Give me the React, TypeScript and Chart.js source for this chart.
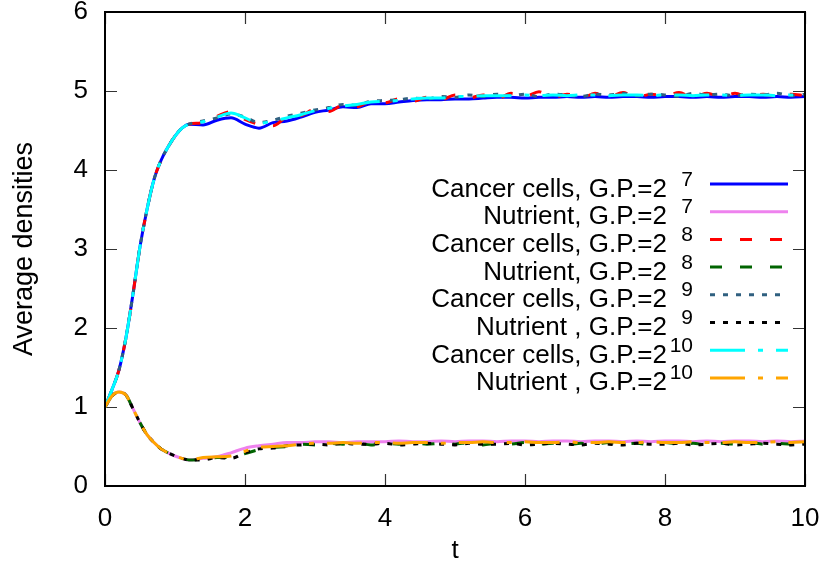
import { useEffect, useRef } from "react";
import { Chart, registerables } from "chart.js";

Chart.register(...registerables);

// time grid (finer during the initial transient)
const tValues = [
  0, 0.1, 0.2, 0.3, 0.4, 0.5, 0.6, 0.7, 0.8, 0.9, 1.0, 1.1, 1.2,
  1.4, 1.6, 1.8, 2.0, 2.2, 2.4, 2.6, 2.8, 3.0, 3.2,
  3.4, 3.6, 3.8, 4.0, 4.2, 4.4, 4.6, 4.8, 5.0, 5.2,
  5.4, 5.6, 5.8, 6.0, 6.2, 6.4, 6.6, 6.8, 7.0, 7.2,
  7.4, 7.6, 7.8, 8.0, 8.2, 8.4, 8.6, 8.8, 9.0, 9.2,
  9.4, 9.6, 9.8, 10.0,
];

const cancer7 = [
  1.00, 1.22, 1.47, 1.88, 2.43, 3.03, 3.50, 3.88, 4.12, 4.29, 4.43, 4.53, 4.58,
  4.57, 4.63, 4.66, 4.58, 4.53, 4.60, 4.62, 4.67, 4.73, 4.76,
  4.80, 4.79, 4.84, 4.84, 4.86, 4.88, 4.89, 4.89, 4.90, 4.90,
  4.91, 4.92, 4.92, 4.91, 4.92, 4.92, 4.93, 4.92, 4.93, 4.92,
  4.93, 4.93, 4.92, 4.93, 4.93, 4.92, 4.93, 4.92, 4.93, 4.93,
  4.92, 4.93, 4.92, 4.93,
];
const nutrient7 = [
  1.00, 1.14, 1.19, 1.15, 0.98, 0.80, 0.65, 0.55, 0.47, 0.42, 0.38, 0.35, 0.33,
  0.35, 0.37, 0.42, 0.48, 0.51, 0.53, 0.55, 0.55, 0.56, 0.56,
  0.55, 0.56, 0.56, 0.56, 0.57, 0.56, 0.56, 0.57, 0.56, 0.57,
  0.57, 0.56, 0.57, 0.57, 0.56, 0.57, 0.57, 0.56, 0.57, 0.57,
  0.56, 0.57, 0.56, 0.57, 0.57, 0.56, 0.57, 0.56, 0.57, 0.57,
  0.56, 0.57, 0.56, 0.57,
];
const cancer8 = [
  1.00, 1.22, 1.47, 1.88, 2.43, 3.03, 3.50, 3.88, 4.12, 4.29, 4.43, 4.53, 4.58,
  4.60, 4.68, 4.74, 4.64, 4.58, 4.56, 4.67, 4.69, 4.77, 4.74,
  4.82, 4.80, 4.87, 4.85, 4.90, 4.87, 4.92, 4.89, 4.95, 4.91,
  4.95, 4.90, 4.97, 4.93, 4.99, 4.92, 4.96, 4.91, 4.97, 4.93,
  4.98, 4.92, 4.96, 4.94, 4.98, 4.92, 4.97, 4.93, 4.97, 4.92,
  4.96, 4.93, 4.96, 4.94,
];
const nutrient8 = [
  1.00, 1.14, 1.19, 1.15, 0.98, 0.80, 0.65, 0.55, 0.47, 0.42, 0.38, 0.35, 0.33,
  0.34, 0.36, 0.36, 0.41, 0.46, 0.49, 0.50, 0.53, 0.52, 0.54,
  0.53, 0.54, 0.52, 0.54, 0.53, 0.55, 0.53, 0.54, 0.53, 0.55,
  0.52, 0.54, 0.53, 0.55, 0.53, 0.54, 0.52, 0.54, 0.53, 0.55,
  0.53, 0.54, 0.52, 0.55, 0.53, 0.54, 0.52, 0.54, 0.53, 0.55,
  0.53, 0.54, 0.53, 0.54,
];
const cancer9 = [
  1.00, 1.22, 1.47, 1.88, 2.43, 3.03, 3.50, 3.88, 4.12, 4.29, 4.43, 4.53, 4.58,
  4.62, 4.66, 4.71, 4.67, 4.60, 4.63, 4.68, 4.72, 4.76, 4.79,
  4.83, 4.82, 4.87, 4.88, 4.89, 4.91, 4.90, 4.93, 4.92, 4.95,
  4.93, 4.96, 4.94, 4.96, 4.93, 4.96, 4.95, 4.93, 4.96, 4.95,
  4.97, 4.94, 4.96, 4.95, 4.93, 4.97, 4.95, 4.96, 4.94, 4.96,
  4.95, 4.97, 4.94, 4.96,
];
const nutrient9 = [
  1.00, 1.14, 1.19, 1.15, 0.98, 0.80, 0.65, 0.55, 0.47, 0.42, 0.38, 0.35, 0.33,
  0.33, 0.36, 0.35, 0.42, 0.47, 0.48, 0.51, 0.52, 0.53, 0.52,
  0.54, 0.53, 0.53, 0.54, 0.52, 0.53, 0.54, 0.53, 0.52, 0.54,
  0.53, 0.53, 0.54, 0.52, 0.53, 0.54, 0.53, 0.52, 0.54, 0.53,
  0.52, 0.54, 0.53, 0.53, 0.54, 0.52, 0.53, 0.54, 0.52, 0.53,
  0.54, 0.53, 0.52, 0.53,
];
const cancer10 = [
  1.00, 1.22, 1.47, 1.88, 2.43, 3.03, 3.50, 3.88, 4.12, 4.29, 4.43, 4.53, 4.58,
  4.61, 4.67, 4.72, 4.66, 4.59, 4.62, 4.66, 4.70, 4.75, 4.78,
  4.81, 4.83, 4.86, 4.87, 4.88, 4.90, 4.91, 4.91, 4.93, 4.93,
  4.94, 4.94, 4.94, 4.95, 4.94, 4.95, 4.94, 4.95, 4.95, 4.94,
  4.95, 4.95, 4.94, 4.95, 4.95, 4.94, 4.95, 4.95, 4.94, 4.95,
  4.95, 4.94, 4.95, 4.95,
];
const nutrient10 = [
  1.00, 1.14, 1.19, 1.15, 0.98, 0.80, 0.65, 0.55, 0.47, 0.42, 0.38, 0.35, 0.33,
  0.36, 0.37, 0.38, 0.44, 0.49, 0.50, 0.51, 0.53, 0.54, 0.54,
  0.55, 0.54, 0.55, 0.55, 0.54, 0.55, 0.55, 0.54, 0.55, 0.55,
  0.56, 0.55, 0.55, 0.56, 0.55, 0.55, 0.56, 0.55, 0.55, 0.56,
  0.55, 0.55, 0.56, 0.55, 0.55, 0.56, 0.55, 0.55, 0.56, 0.55,
  0.55, 0.56, 0.55, 0.56,
];

// key entries: text, then the exponent of the grid size
const keyTexts = [
  "Cancer cells, G.P.=2",
  "Nutrient, G.P.=2",
  "Cancer cells, G.P.=2",
  "Nutrient, G.P.=2",
  "Cancer cells, G.P.=2",
  "Nutrient , G.P.=2",
  "Cancer cells, G.P.=2",
  "Nutrient , G.P.=2",
];
const keyExponents = ["7", "7", "8", "8", "9", "9", "10", "10"];

const seriesValues = [cancer7, nutrient7, cancer8, nutrient8, cancer9, nutrient9, cancer10, nutrient10];
const seriesColors = ["#0000ff", "#ee82ee", "#ff0000", "#006400", "#306080", "#000000", "#00ffff", "#ffa500"];
const seriesDashes: number[][] = [[], [], [12, 18], [12, 18], [5, 8], [5, 8], [35, 13, 5, 13], [35, 13, 5, 13]];

const xTicks = [0, 2, 4, 6, 8, 10];
const yTicks = [0, 1, 2, 3, 4, 5, 6];

const FONT = "'Liberation Sans', Arial, Helvetica, sans-serif";

// border and inward mirrored tick marks
const framePlugin = {
  id: "frame",
  beforeDatasetsDraw(chart: any) {
    const { ctx, chartArea: a, scales } = chart;
    const x = scales.x;
    const y = scales.y;
    const len = 12;
    ctx.save();
    ctx.strokeStyle = "#333";
    ctx.lineWidth = 1.2;
    ctx.beginPath();
    xTicks.forEach((v) => {
      const px = Math.round(x.getPixelForValue(v)) + 0.5;
      ctx.moveTo(px, a.bottom);
      ctx.lineTo(px, a.bottom - len);
      ctx.moveTo(px, a.top);
      ctx.lineTo(px, a.top + len);
    });
    yTicks.forEach((v) => {
      const py = Math.round(y.getPixelForValue(v)) + 0.5;
      ctx.moveTo(a.left, py);
      ctx.lineTo(a.left + len, py);
      ctx.moveTo(a.right, py);
      ctx.lineTo(a.right - len, py);
    });
    ctx.stroke();
    ctx.restore();
  },
  afterDatasetsDraw(chart: any) {
    const { ctx, chartArea: a } = chart;
    ctx.save();
    ctx.strokeStyle = "#000";
    ctx.lineWidth = 2;
    ctx.strokeRect(a.left, a.top, a.right - a.left, a.bottom - a.top);
    ctx.restore();
  },
};

// gnuplot-style key: right-justified text with superscript exponent, sample line on the right
const keyPlugin = {
  id: "gpkey",
  afterDatasetsDraw(chart: any) {
    const { ctx, chartArea: a } = chart;
    const lineRight = a.right - 17;
    const lineLeft = lineRight - 78;
    const supRight = lineLeft - 17;
    const textRight = supRight - 26;
    const firstRow = a.top + 172;
    const rowStep = 27.7;
    ctx.save();
    chart.data.datasets.forEach((ds: any, i: number) => {
      const yy = firstRow + i * rowStep;
      ctx.setLineDash(ds.borderDash || []);
      ctx.lineCap = "butt";
      ctx.strokeStyle = ds.borderColor;
      ctx.lineWidth = ds.borderWidth;
      ctx.beginPath();
      ctx.moveTo(lineLeft, yy);
      ctx.lineTo(lineRight, yy);
      ctx.stroke();
      ctx.setLineDash([]);
      ctx.fillStyle = "#000";
      ctx.textAlign = "right";
      ctx.textBaseline = "alphabetic";
      ctx.font = `26px ${FONT}`;
      ctx.fillText(ds.keyText, textRight, yy + 12.5);
      ctx.font = `21px ${FONT}`;
      ctx.fillText(ds.keyExp, supRight, yy + 1.5);
    });
    ctx.restore();
  },
};

export default function App() {
  const ref = useRef<HTMLCanvasElement>(null);

  useEffect(() => {
    const datasets = seriesValues.map((vals, i) => ({
      label: keyTexts[i] + keyExponents[i],
      keyText: keyTexts[i],
      keyExp: keyExponents[i],
      data: tValues.map((t, k) => ({ x: t, y: vals[k] })),
      borderColor: seriesColors[i],
      backgroundColor: seriesColors[i],
      borderWidth: 3,
      borderDash: seriesDashes[i],
      borderCapStyle: "butt",
      pointRadius: 0,
      fill: false,
      cubicInterpolationMode: "monotone",
      order: seriesValues.length - i,
    }));

    const chart = new Chart(ref.current as HTMLCanvasElement, {
      type: "line",
      data: { datasets } as any,
      options: {
        responsive: false,
        animation: false,
        devicePixelRatio: 1,
        layout: { padding: { top: 12, right: 22, left: 0, bottom: 0 } },
        plugins: { legend: { display: false }, tooltip: { enabled: false } },
        scales: {
          x: {
            type: "linear",
            min: 0,
            max: 10,
            afterBuildTicks: (s: any) => {
              s.ticks = xTicks.map((v) => ({ value: v }));
            },
            ticks: { color: "#000", padding: 17, maxRotation: 0, font: { family: FONT, size: 26 } },
            grid: { display: false, drawTicks: false },
            border: { display: false },
            title: {
              display: true,
              text: "t",
              color: "#000",
              font: { family: FONT, size: 26 },
              padding: { top: 0, bottom: 6 },
            },
            afterFit: (s: any) => {
              s.height = 86;
              s.paddingLeft = 0;
              s.paddingRight = 0;
            },
          },
          y: {
            min: 0,
            max: 6,
            afterBuildTicks: (s: any) => {
              s.ticks = yTicks.map((v) => ({ value: v }));
            },
            ticks: { color: "#000", padding: 17, font: { family: FONT, size: 26 } },
            grid: { display: false, drawTicks: false },
            border: { display: false },
            title: {
              display: true,
              text: "Average densities",
              color: "#000",
              font: { family: FONT, size: 27 },
              padding: { top: 8, bottom: 0 },
            },
            afterFit: (s: any) => {
              s.width = 105;
              s.paddingTop = 0;
              s.paddingBottom = 0;
            },
          },
        },
      } as any,
      plugins: [framePlugin, keyPlugin],
    });
    return () => chart.destroy();
  }, []);

  return (
    <div style={{ position: "fixed", left: 0, top: 0, width: 827, height: 572, background: "#fff" }}>
      <canvas ref={ref} width={827} height={572} style={{ display: "block" }} />
    </div>
  );
}
